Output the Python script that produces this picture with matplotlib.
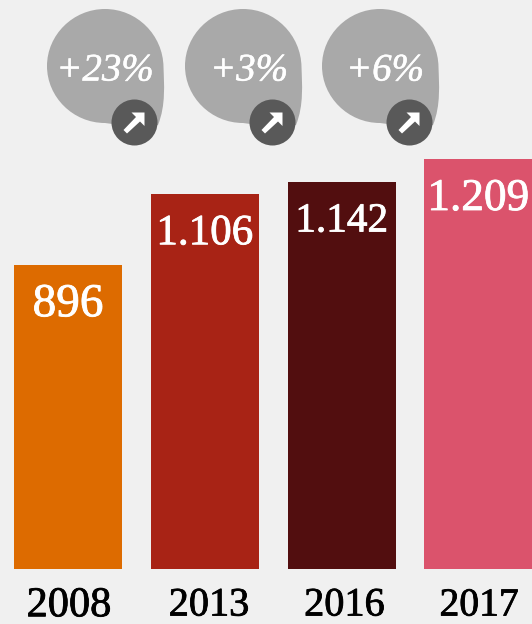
import matplotlib
matplotlib.use("Agg")
import matplotlib.pyplot as plt
import matplotlib.patheffects as pe
from matplotlib.path import Path
from matplotlib.patches import PathPatch, Circle, Polygon

years = ["2008", "2013", "2016", "2017"]
values = [896, 1106, 1142, 1209]
value_labels = ["896", "1.106", "1.142", "1.209"]
changes = ["+23%", "+3%", "+6%"]
colors = ["#dd6b00", "#a82315", "#520e0f", "#db536c"]

BG = "#f0f0f0"
PX = 1 / 100

plt.rcParams["font.family"] = "Liberation Serif"

fig = plt.figure(figsize=(532 * PX, 624 * PX), dpi=100, facecolor=BG)

# bars, baseline sits at y=569px
ax = fig.add_axes([0, 0, 1, 1])
ax.set_facecolor(BG)
bar_x = [0, 1, 2, 3]
ax.bar(bar_x, values, width=0.79, color=colors)
ax.set_xlim(-68 / 136.8, (532 - 68) / 136.8)
ax.set_ylim(-55 / 0.3393, 569 / 0.3393)
ax.axis("off")

# fake the heavier display face with a thin stroke
thick_w = [pe.withStroke(linewidth=0.6, foreground="white")]
thick_k = [pe.withStroke(linewidth=0.6, foreground="black")]

label_px = [(305, 34), (234, 31), (222, 29.7), (199, 32.6)]
for x, lab, (py, size) in zip(bar_x, value_labels, label_px):
    ax.text(x, (569 - py) / 0.3393, lab, color="white", fontsize=size,
            ha="center", va="center", path_effects=thick_w)

year_size = [30.5, 29, 29, 28.5]
year_nudge = [0.007, 0.03, 0.02, 0.005]
for x, y, size, dx in zip(bar_x, years, year_size, year_nudge):
    ax.text(x + dx, (569 - 606) / 0.3393, y, color="black", fontsize=size,
            ha="center", va="center", path_effects=thick_k)

# bubbles on top, drawn in pixel coordinates
over = fig.add_axes([0, 0, 1, 1])
over.set_xlim(0, 532)
over.set_ylim(624, 0)
over.axis("off")

verts = [(58, 0),
         (90, 0), (116, 26), (116.5, 58),
         (117, 75), (119, 96), (111, 116),
         (88, 118),
         (58, 114),
         (26, 114), (0, 88), (0, 57),
         (0, 26), (26, 0), (58, 0)]
codes = [Path.MOVETO] + [Path.CURVE4] * 6 + [Path.LINETO] * 2 + [Path.CURVE4] * 6

bubble_left = [47, 185, 322]
text_x = [105, 249, 385]
arrow = [(0, 0), (0, 13.5), (-4.5, 9), (-17.5, 21), (-21, 17.5), (-8.5, 4.5), (-13, 0)]
for left, txt, tx in zip(bubble_left, changes, text_x):
    moved = [(vx + left, vy + 9) for vx, vy in verts]
    over.add_patch(PathPatch(Path(moved, codes), fc="#a9a9a9", ec="none"))
    over.text(tx, 71, txt, color="white", fontsize=28, style="italic",
              ha="center", va="center",
              path_effects=[pe.withStroke(linewidth=0.4, foreground="white")])
    cx, cy = left + 87.5, 122.5
    over.add_patch(Circle((cx, cy), 23, fc="#595959", ec="none"))
    over.add_patch(Polygon([(cx + 10 + ax_, cy - 10 + ay_) for ax_, ay_ in arrow],
                           fc="white", ec="none"))

fig.savefig("out.png", dpi=100, facecolor=BG)
